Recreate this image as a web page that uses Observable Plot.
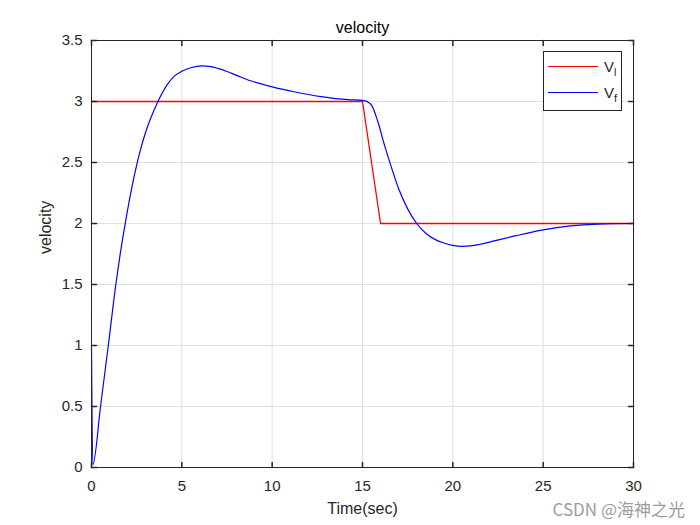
<!DOCTYPE html>
<html>
<head>
<meta charset="utf-8">
<script src="https://cdn.jsdelivr.net/npm/d3@7"></script>
<script src="https://cdn.jsdelivr.net/npm/@observablehq/plot@0.6"></script>
<style>
  html, body { margin: 0; padding: 0; background: #fff; }
  #wrap { position: relative; width: 700px; height: 525px; }
  #legend { position: absolute; left: 543px; top: 51px; width: 77px; height: 58px;
    border: 1px solid #262626; background: #fff; box-sizing: content-box;
    font-family: "Liberation Sans", Arial, sans-serif; font-size: 15px; color: #262626; }
  .item { position: absolute; left: 4px; height: 20px; width: 74px; }
  .item .ln { position: absolute; left: 0; top: 9px; width: 50px; height: 0; border-top: 1.2px solid; }
  .item .lb { position: absolute; left: 56px; top: 0; line-height: 20px; white-space: nowrap; }
  .item sub { font-size: 11px; vertical-align: -4px; }
  #watermark { position: absolute; right: 15px; top: 499px; line-height: 20px;
    font-family: "Noto Sans CJK SC", "Liberation Sans", sans-serif;
    font-size: 17px; color: #9c9c9c; white-space: nowrap; }
</style>
</head>
<body>
<div id="wrap"></div>
<script>
// ---- data ----
const xTicks = [0, 5, 10, 15, 20, 25, 30];
const yTicks = [0, 0.5, 1, 1.5, 2, 2.5, 3, 3.5];
const seriesNames = ["V_l", "V_f"];
const leaderTime = [0, 15, 16, 30];
const leaderVel  = [3, 3, 2, 2];
const followerTime = [0, 0.07, 0.5, 0.93, 1.33, 1.61, 1.89, 2.16, 2.44, 2.72, 3.0, 3.27, 3.68, 4.2, 4.6, 5.03, 5.5, 6.1, 6.6, 7.0, 7.5, 8.1, 8.8, 10, 11.2, 12.7, 14.2, 15, 15.3, 15.5, 15.84, 16.2, 16.6, 17.04, 17.5, 18, 18.5, 19, 19.5, 20.0, 20.5, 21.0, 21.5, 22.3, 23.5, 25, 26.5, 28, 30];
const followerVel  = [1.0, 0.02, 0.5, 1.0, 1.48, 1.77, 2.02, 2.24, 2.44, 2.61, 2.75, 2.86, 3.0, 3.14, 3.21, 3.25, 3.277, 3.292, 3.286, 3.271, 3.246, 3.21, 3.17, 3.12, 3.08, 3.04, 3.015, 3.01, 2.995, 2.97, 2.84, 2.65, 2.46, 2.27, 2.12, 2.0, 1.92, 1.87, 1.84, 1.82, 1.813, 1.817, 1.83, 1.857, 1.9, 1.948, 1.98, 1.995, 2.0];

const leader = leaderTime.map((t, i) => ({t, v: leaderVel[i]}));
const follower = followerTime.map((t, i) => ({t, v: followerVel[i]}));

const axisColor = "#262626";
const gridColor = "#dfdfdf";
const tick = 5;
const tickShape = {draw(context, l) { context.moveTo(0, 0); context.lineTo(0, -l); }};

const chart = Plot.plot({
  width: 700,
  height: 525,
  marginLeft: 91,
  marginRight: 67,
  marginTop: 40,
  marginBottom: 58,
  x: {domain: [0, 30]},
  y: {domain: [0, 3.5]},
  style: {fontFamily: "'Liberation Sans', Arial, sans-serif", fontSize: "15px", color: axisColor, background: "#fff"},
  marks: [
    Plot.gridX(xTicks, {stroke: gridColor, strokeOpacity: 1}),
    Plot.gridY(yTicks, {stroke: gridColor, strokeOpacity: 1}),
    Plot.line(leader, {x: "t", y: "v", stroke: "#ff0000", strokeWidth: 1.3}),
    Plot.line(follower, {x: "t", y: "v", stroke: "#0000ff", strokeWidth: 1.2, curve: "monotone-x"}),
    Plot.frame({stroke: axisColor}),
    // inward ticks
    Plot.vector(xTicks, {x: d => d, frameAnchor: "bottom", length: tick, rotate: 0, anchor: "start", shape: tickShape, stroke: axisColor}),
    Plot.vector(xTicks, {x: d => d, frameAnchor: "top", length: tick, rotate: 180, anchor: "start", shape: tickShape, stroke: axisColor}),
    Plot.vector(yTicks, {y: d => d, frameAnchor: "left", length: tick, rotate: 90, anchor: "start", shape: tickShape, stroke: axisColor}),
    Plot.vector(yTicks, {y: d => d, frameAnchor: "right", length: tick, rotate: -90, anchor: "start", shape: tickShape, stroke: axisColor}),
    Plot.axisX(xTicks, {tickSize: 0, tickPadding: 13, label: null, fontSize: 15, fill: axisColor}),
    Plot.axisY(yTicks, {tickSize: 0, tickPadding: 9, label: null, fontSize: 15, fill: axisColor, tickFormat: d => String(d)}),
    Plot.text(["Time(sec)"], {frameAnchor: "bottom", dy: 46, fontSize: 16, fill: axisColor}),
    Plot.text(["velocity"], {frameAnchor: "left", dx: -46, rotate: -90, fontSize: 16, fill: axisColor}),
    Plot.text(["velocity"], {frameAnchor: "top", dy: -19, fontSize: 16, fill: "#000"})
  ]
});

const wrap = document.getElementById("wrap");
wrap.appendChild(chart);

const legend = document.createElement("div");
legend.id = "legend";
const colors = ["#ff0000", "#0000ff"];
seriesNames.forEach((name, i) => {
  const [base, sub] = name.split("_");
  const item = document.createElement("div");
  item.className = "item";
  item.style.top = (5 + i * 26) + "px";
  item.innerHTML = `<div class="ln" style="border-color:${colors[i]}"></div><div class="lb">${base}<sub>${sub}</sub></div>`;
  legend.appendChild(item);
});
wrap.appendChild(legend);

const wm = document.createElement("div");
wm.id = "watermark";
wm.textContent = "CSDN @海神之光";
wrap.appendChild(wm);
</script>
</body>
</html>
